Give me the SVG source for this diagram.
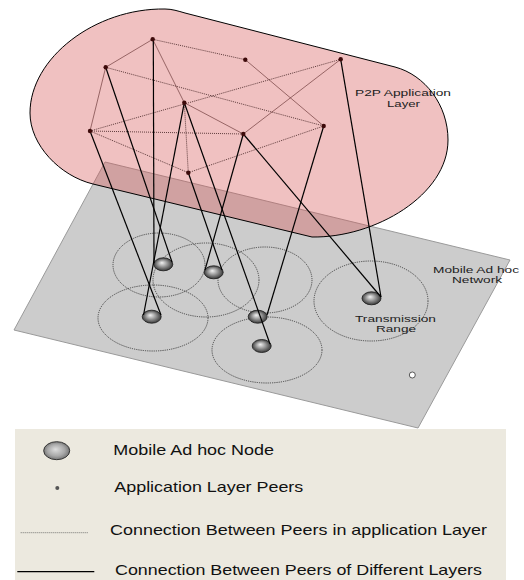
<svg xmlns="http://www.w3.org/2000/svg" width="524" height="580" viewBox="0 0 524 580">
<defs>
<radialGradient id="sphere" cx="50%" cy="50%" r="55%" fx="42%" fy="38%">
<stop offset="0" stop-color="#f2f2f2"/>
<stop offset="0.45" stop-color="#9a9a9a"/>
<stop offset="1" stop-color="#2a2a2a"/>
</radialGradient>
<radialGradient id="sphereL" cx="50%" cy="50%" r="55%" fx="45%" fy="42%">
<stop offset="0" stop-color="#dedede"/>
<stop offset="0.6" stop-color="#a8a8a8"/>
<stop offset="1" stop-color="#6a6a6a"/>
</radialGradient>
</defs>
<style>
.plane{fill:#cccccc;stroke:#9a9a9a;stroke-width:1}
.range{fill:none;stroke:#2a2a2a;stroke-width:0.8;stroke-dasharray:1.2 1}
.node{fill:url(#sphere);stroke:#1a1a1a;stroke-width:0.8}
.layer{fill:rgb(214,86,86);fill-opacity:0.37;stroke:#000;stroke-width:1}
.thin{stroke:#5a2626;stroke-width:0.6;fill:none}
.dot{stroke:#3a1a1a;stroke-width:0.8;stroke-dasharray:1 1;fill:none}
.solid{stroke:#000;stroke-width:1.2;fill:none}
.peer{fill:#3d0a0a}
.lbl{font-family:"Liberation Sans",Arial,sans-serif;font-size:9px;fill:#222}
.leg{font-family:"Liberation Sans",Arial,sans-serif;font-size:14.5px;fill:#111}
</style>
<polygon class="plane" points="105,162 510,260 418,428 14,330"/>
<g id="ranges">
<ellipse class="range" cx="159" cy="265" rx="46" ry="32"/>
<ellipse class="range" cx="206" cy="280" rx="53" ry="37"/>
<ellipse class="range" cx="265" cy="280" rx="47" ry="33"/>
<ellipse class="range" cx="153" cy="318" rx="55" ry="33"/>
<ellipse class="range" cx="267" cy="350" rx="55" ry="33"/>
<ellipse class="range" cx="371" cy="301" rx="57" ry="40"/>
</g>
<g id="node-n1"><ellipse class="node" cx="163.3" cy="264.3" rx="9.5" ry="6.5"/></g>
<g id="node-n2"><ellipse class="node" cx="213.7" cy="272.3" rx="9.5" ry="6.5"/></g>
<g id="node-n3"><ellipse class="node" cx="151.7" cy="316.7" rx="9.5" ry="6.5"/></g>
<g id="node-n4"><ellipse class="node" cx="257.7" cy="316.7" rx="9.5" ry="6.5"/></g>
<g id="node-n5"><ellipse class="node" cx="261.7" cy="346" rx="9.5" ry="6.5"/></g>
<g id="node-n6"><ellipse class="node" cx="371.5" cy="298.3" rx="9.5" ry="6.5"/></g>
<g id="node-free"><circle cx="412.3" cy="375" r="3" fill="#fff" stroke="#333" stroke-width="0.8"/></g>
<g id="p2p-layer">
<path class="layer" d="M 93,184 C 60,176 30,145 30,113 C 30,58 95,8 165,9 C 172,9 178,11 185,13 L 395,67 C 425,75 448,105 448,140 C 448,195 375,238 312,237 Z"/>
</g>
<g id="connectors">
<line class="thin" x1="152.7" y1="39.3" x2="105.7" y2="67.3"/>
<line class="dot" x1="152.7" y1="39.3" x2="245.3" y2="59.7"/>
<line class="thin" x1="152.7" y1="39.3" x2="184.3" y2="102.7"/>
<line class="thin" x1="105.7" y1="67.3" x2="90" y2="131"/>
<line class="dot" x1="105.7" y1="67.3" x2="323.7" y2="126"/>
<line class="thin" x1="245.3" y1="59.7" x2="323.7" y2="126"/>
<line class="dot" x1="90" y1="131" x2="340.7" y2="59.3"/>
<line class="thin" x1="340.7" y1="59.3" x2="243.3" y2="134"/>
<line class="dot" x1="90" y1="131" x2="243.3" y2="134"/>
<line class="dot" x1="90" y1="131" x2="188.3" y2="172.7"/>
<line class="dot" x1="188.3" y1="172.7" x2="323.7" y2="126"/>
<line class="thin" x1="184.3" y1="102.7" x2="243.3" y2="134"/>
<line class="dot" x1="184.3" y1="102.7" x2="188.3" y2="172.7"/>
<line class="solid" x1="153.3" y1="39.3" x2="154" y2="263"/>
<line class="solid" x1="105.7" y1="67.3" x2="172" y2="262"/>
<line class="solid" x1="184.3" y1="102.7" x2="143.5" y2="315"/>
<line class="solid" x1="90" y1="131" x2="161" y2="315"/>
<line class="solid" x1="243.3" y1="134" x2="205" y2="270"/>
<line class="solid" x1="188.3" y1="172.7" x2="222" y2="270"/>
<line class="solid" x1="184.3" y1="102.7" x2="270" y2="344"/>
<line class="solid" x1="323.7" y1="126" x2="267" y2="315"/>
<line class="solid" x1="243.3" y1="134" x2="381" y2="297"/>
<line class="solid" x1="340.7" y1="59.3" x2="381" y2="297"/>
</g>
<g id="peer-p1"><circle class="peer" cx="152.7" cy="39.3" r="2.2"/></g>
<g id="peer-p2"><circle class="peer" cx="105.7" cy="67.3" r="2.2"/></g>
<g id="peer-p3"><circle class="peer" cx="245.3" cy="59.7" r="2.2"/></g>
<g id="peer-p4"><circle class="peer" cx="340.7" cy="59.3" r="2.2"/></g>
<g id="peer-p5"><circle class="peer" cx="184.3" cy="102.7" r="2.2"/></g>
<g id="peer-p6"><circle class="peer" cx="90" cy="131" r="2.2"/></g>
<g id="peer-p7"><circle class="peer" cx="243.3" cy="134" r="2.2"/></g>
<g id="peer-p8"><circle class="peer" cx="323.7" cy="126" r="2.2"/></g>
<g id="peer-p9"><circle class="peer" cx="188.3" cy="172.7" r="2.2"/></g>
<g id="labels">
<text class="lbl" x="355" y="96" textLength="96" lengthAdjust="spacingAndGlyphs">P2P Application</text>
<text class="lbl" x="387" y="106.5" textLength="33" lengthAdjust="spacingAndGlyphs">Layer</text>
<text class="lbl" x="433" y="272.5" textLength="86" lengthAdjust="spacingAndGlyphs">Mobile Ad hoc</text>
<text class="lbl" x="452" y="283" textLength="50" lengthAdjust="spacingAndGlyphs">Network</text>
<text class="lbl" x="355" y="321.5" textLength="81" lengthAdjust="spacingAndGlyphs">Transmission</text>
<text class="lbl" x="376" y="332" textLength="40" lengthAdjust="spacingAndGlyphs">Range</text>
</g>
<g id="legend">
<rect x="15" y="429" width="491" height="151" fill="#ece9df"/>
<ellipse cx="56.7" cy="450.7" rx="13" ry="9" fill="url(#sphereL)" stroke="#333" stroke-width="1"/>
<circle cx="57.3" cy="488" r="2" fill="#555"/>
<line x1="20.7" y1="532.7" x2="87.7" y2="532.7" stroke="#555" stroke-width="0.8" stroke-dasharray="1 1"/>
<line x1="17.3" y1="571.7" x2="94.3" y2="571.7" stroke="#000" stroke-width="1.2"/>
<text class="leg" x="113.3" y="454.5" textLength="160.7" lengthAdjust="spacingAndGlyphs">Mobile Ad hoc Node</text>
<text class="leg" x="114.3" y="492" textLength="189" lengthAdjust="spacingAndGlyphs">Application Layer Peers</text>
<text class="leg" x="110" y="535" textLength="377" lengthAdjust="spacingAndGlyphs">Connection Between Peers in application Layer</text>
<text class="leg" x="115" y="575" textLength="367" lengthAdjust="spacingAndGlyphs">Connection Between Peers of Different Layers</text>
</g>
</svg>
